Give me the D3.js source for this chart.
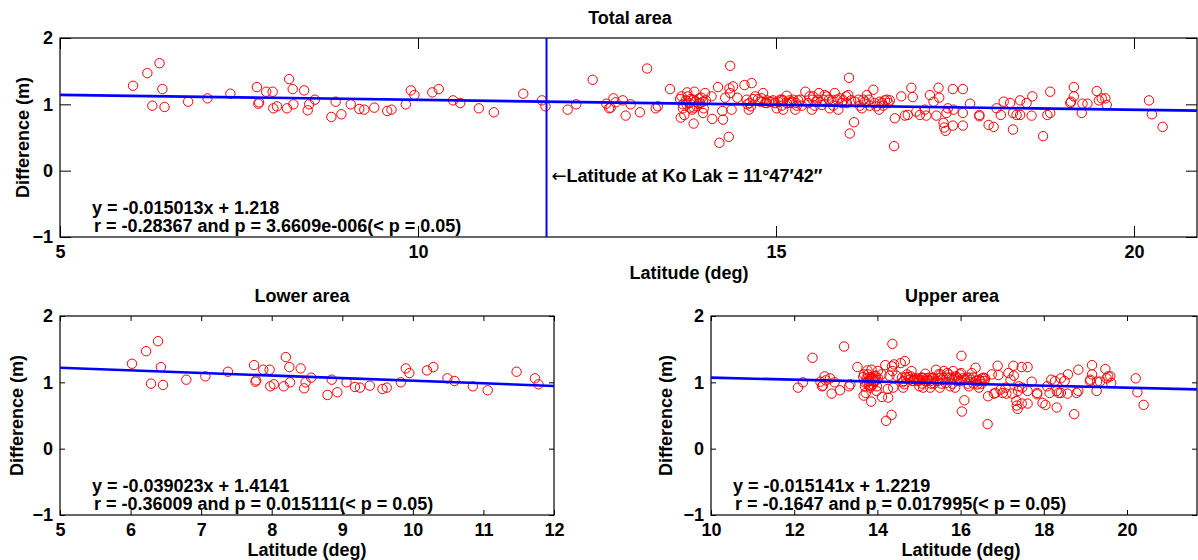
<!DOCTYPE html>
<html>
<head>
<meta charset="utf-8">
<script src="https://cdn.jsdelivr.net/npm/d3@7"></script>
<style>
  body { margin: 0; background: #fff; }
  svg { display: block; }
  text { font-family: "Liberation Sans", Arial, Helvetica, sans-serif; font-weight: bold; fill: #000; }
  .tick line { stroke: #000; }
</style>
</head>
<body>
<div id="chart"></div>
<script>
//------------------------------DATA------------------------------//
// lower area (south of Ko Lak) : latitude (deg) / difference (m)
var lowerLat = [6.02,6.22,6.29,6.39,6.43,6.46,6.79,7.06,7.38,7.75,7.77,7.78,7.88,7.97,7.98,
  8.03,8.17,8.20,8.25,8.26,8.41,8.46,8.48,8.56,8.79,8.85,8.93,9.06,9.18,9.25,9.39,9.57,9.63,
  9.83,9.90,9.95,10.20,10.29,10.49,10.59,10.85,11.06,11.47,11.73,11.78];
var lowerDiff = [1.28,1.47,0.98,1.62,1.23,0.96,1.04,1.09,1.16,1.26,1.01,1.03,1.19,1.19,0.94,
  0.97,0.94,1.38,1.23,1.00,1.21,0.91,1.00,1.07,0.81,1.04,0.85,1.00,0.93,0.92,0.95,0.90,0.92,
  1.00,1.21,1.14,1.18,1.23,1.06,1.02,0.94,0.88,1.16,1.06,0.97];

// upper area (north of Ko Lak)
var upperLat = [12.09,12.21,12.44,12.63,12.67,12.69,12.73,12.76,12.86,12.90,
  12.97,13.10,13.20,13.32,13.35,13.52,13.66,13.67,13.70,13.72,
  13.74,13.76,13.79,13.80,13.81,13.83,13.85,13.85,13.86,13.88,
  13.92,13.93,13.96,13.98,13.99,14.01,14.02,14.10,14.11,14.19,
  14.21,14.25,14.26,14.29,14.34,14.35,14.36,14.36,14.38,14.40,
  14.46,14.56,14.60,14.62,14.66,14.68,14.71,14.75,14.82,14.85,
  14.87,14.91,14.96,15.01,15.03,15.10,15.10,15.15,15.19,15.20,
  15.27,15.31,15.41,15.45,15.50,15.52,15.56,15.60,15.64,15.71,
  15.75,15.79,15.82,15.87,15.89,15.94,16.01,16.02,16.03,16.05,
  16.09,16.10,16.20,16.24,16.27,16.31,16.36,16.40,16.44,16.48,
  16.52,16.59,16.65,16.66,16.75,16.80,16.84,16.89,16.91,16.96,
  17.01,17.08,17.10,17.15,17.20,17.24,17.27,17.28,17.34,17.35,
  17.37,17.38,17.40,17.47,17.47,17.48,17.61,17.61,17.61,17.71,
  17.84,17.84,17.97,18.04,18.08,18.14,18.18,18.27,18.31,18.31,
  18.36,18.41,18.41,18.50,18.57,18.58,18.73,18.79,18.83,18.83,
  19.11,19.12,19.16,19.16,19.27,19.28,19.35,19.48,19.51,19.55,
  19.60,19.62,20.21,20.25,20.40,
  15.08,15.24,15.28,15.34,15.36,15.47,15.51,15.54,15.58,15.66,
  15.68,15.74,15.80,15.85,15.92,15.98,15.99,16.15,16.17,16.22,
  16.30,16.38,16.45,16.50,16.55,16.57,
  14.59,14.63,14.65,14.78,14.80,14.87,14.94,14.99,15.06,15.08,15.15,15.22,15.29,
  13.68,13.70,13.75,13.77,13.85,13.89,13.94,13.98];
var upperDiff = [0.92,1.00,1.37,1.01,0.94,0.95,1.09,1.03,1.06,0.83,
  1.00,0.88,1.54,0.94,0.97,1.23,1.08,0.80,1.00,0.84,
  1.06,1.18,1.02,0.95,1.08,0.92,0.71,0.95,1.19,1.04,
  1.01,1.09,1.10,0.87,0.94,1.17,1.06,1.12,0.78,1.26,
  0.42,0.90,0.77,1.10,0.51,1.24,1.58,1.17,0.92,1.27,
  1.10,1.29,1.00,0.92,1.32,1.08,1.12,1.08,1.17,1.02,
  1.06,1.04,1.06,0.94,1.04,1.06,0.92,1.13,1.06,1.02,
  0.92,1.06,1.19,1.02,0.92,1.12,1.04,1.17,0.99,1.12,
  0.94,1.06,1.17,0.92,1.09,1.06,1.14,1.40,0.56,1.06,
  0.73,1.04,0.94,1.04,1.14,0.98,1.22,0.97,0.92,1.02,
  1.06,1.06,0.37,0.79,1.12,0.83,0.84,1.25,1.11,0.89,
  0.84,0.92,0.83,1.14,1.04,0.83,1.25,1.10,0.72,0.65,
  0.60,0.87,0.94,0.68,1.23,0.92,1.23,0.87,0.68,1.01,
  0.84,0.82,0.69,0.66,0.94,0.84,1.04,1.02,0.62,0.87,
  0.84,1.06,0.84,1.02,0.83,1.12,0.52,0.84,1.19,0.87,
  1.02,1.04,1.26,1.12,0.87,1.01,1.01,1.20,1.06,1.09,
  1.09,0.99,1.06,0.85,0.66,
  1.07,1.07,1.02,1.07,0.98,1.12,1.07,0.98,1.07,1.07,
  1.14,1.07,0.98,1.07,1.02,1.12,1.02,1.07,0.98,1.07,
  1.07,1.02,1.04,0.98,1.07,1.02,
  1.07,1.02,0.97,1.04,1.09,1.02,1.04,1.02,1.07,0.98,1.02,1.04,0.98,
  1.12,0.94,1.00,1.12,1.07,0.97,1.02,1.04];

// fit coefficients [slope, intercept] and stats text
var totalFit = [-0.015013, 1.218];
var lowerFit = [-0.039023, 1.4141];
var upperFit = [-0.015141, 1.2219];
var totalText = ["y = -0.015013x + 1.218", "r = -0.28367 and p = 3.6609e-006(< p = 0.05)"];
var lowerText = ["y = -0.039023x + 1.4141", "r = -0.36009 and p = 0.015111(< p = 0.05)"];
var upperText = ["y = -0.015141x + 1.2219", "r = -0.1647 and p = 0.017995(< p = 0.05)"];

var koLakLat = 11 + 47/60 + 42/3600;   // 11°47'42"
var yTicks = [-1, 0, 1, 2];
var totalXTicks = [5, 10, 15, 20];
var lowerXTicks = [5, 6, 7, 8, 9, 10, 11, 12];
var upperXTicks = [10, 12, 14, 16, 18, 20];

//-----------------------------SVG--------------------------------//
var W = 1198, H = 560;
var svg = d3.select("#chart").append("svg")
    .attr("width", W)
    .attr("height", H);

svg.append("rect").attr("width", W).attr("height", H).attr("fill", "#fff");

function pairs(xs, ys) {
    return d3.zip(xs, ys).map(function(p) { return {lat: p[0], diff: p[1]}; });
}

var fmt = d3.format("d");

//---------------------------PANEL--------------------------------//
function panel(cfg) {
    var x = d3.scaleLinear().domain(cfg.xDomain).range([cfg.left, cfg.right]);
    var y = d3.scaleLinear().domain([-1, 2]).range([cfg.bottom, cfg.top]);
    var g = svg.append("g");
    var fs = 18;

    // ticks, all pointing inwards like matlab
    g.append("g")
        .attr("transform", "translate(0," + cfg.bottom + ")")
        .call(d3.axisBottom(x).tickValues(cfg.xTicks).tickFormat(fmt).tickSizeInner(-cfg.tick).tickSizeOuter(0).tickPadding(8))
        .call(function(a) { a.select(".domain").remove(); });
    g.append("g")
        .attr("transform", "translate(0," + cfg.top + ")")
        .call(d3.axisTop(x).tickValues(cfg.xTicks).tickSizeInner(-cfg.tick).tickSizeOuter(0).tickFormat(""))
        .call(function(a) { a.select(".domain").remove(); });
    g.append("g")
        .attr("transform", "translate(" + cfg.left + ",0)")
        .call(d3.axisLeft(y).tickValues(yTicks).tickFormat(fmt).tickSizeInner(-cfg.tick).tickSizeOuter(0).tickPadding(7))
        .call(function(a) { a.select(".domain").remove(); });
    g.append("g")
        .attr("transform", "translate(" + cfg.right + ",0)")
        .call(d3.axisRight(y).tickValues(yTicks).tickSizeInner(-cfg.tick).tickSizeOuter(0).tickFormat(""))
        .call(function(a) { a.select(".domain").remove(); });

    g.selectAll(".tick text")
        .style("font-size", fs + "px")
        .style("font-family", "'Liberation Sans', Arial, sans-serif")
        .style("font-weight", "bold");

    // box
    g.append("rect")
        .attr("x", cfg.left).attr("y", cfg.top)
        .attr("width", cfg.right - cfg.left).attr("height", cfg.bottom - cfg.top)
        .attr("fill", "none").attr("stroke", "#000").attr("stroke-width", 1.2);

    // points
    g.selectAll("circle.pt")
        .data(cfg.data)
        .enter()
        .append("circle")
        .attr("class", "pt")
        .attr("cx", function(d) { return x(d.lat); })
        .attr("cy", function(d) { return y(d.diff); })
        .attr("r", 4.7)
        .attr("fill", "none")
        .attr("stroke", "#ff0000")
        .attr("stroke-width", 1);

    // fitted line over the whole axis
    var line = d3.line()
        .x(function(d) { return x(d); })
        .y(function(d) { return y(cfg.fit[0] * d + cfg.fit[1]); });
    g.append("path")
        .attr("d", line(cfg.xDomain))
        .attr("fill", "none")
        .attr("stroke", "#0000ff")
        .attr("stroke-width", 2.6);

    // labels
    g.append("text")
        .attr("x", cfg.titleX).attr("y", cfg.top - 14)
        .attr("text-anchor", "middle")
        .style("font-size", "18px")
        .text(cfg.title);
    g.append("text")
        .attr("x", cfg.xlabX).attr("y", cfg.bottom + cfg.xlabDy)
        .attr("text-anchor", "middle")
        .style("font-size", "18px")
        .text("Latitude (deg)");
    g.append("text")
        .attr("transform", "translate(" + cfg.ylabX + "," + ((cfg.top + cfg.bottom) / 2) + ") rotate(-90)")
        .attr("dy", "0.35em")
        .attr("text-anchor", "middle")
        .style("font-size", "18px")
        .text("Difference (m)");

    g.selectAll("text.stat")
        .data(cfg.stats)
        .enter()
        .append("text")
        .attr("class", "stat")
        .attr("x", function(d, i) { return cfg.left + cfg.statDx + i * 2; })
        .attr("y", function(d, i) { return cfg.bottom - 23 + i * 18; })
        .style("font-size", fs + "px")
        .text(function(d) { return d; });

    return {x: x, y: y, g: g};
}

//--------------------------DRAWING-------------------------------//
var lowerPts = pairs(lowerLat, lowerDiff);
var upperPts = pairs(upperLat, upperDiff);

var total = panel({
    left: 60, right: 1197, top: 38, bottom: 237,
    xDomain: [5, 20.88], xTicks: totalXTicks, tick: 11,
    data: lowerPts.concat(upperPts), fit: totalFit, stats: totalText,
    title: "Total area", titleX: 630, xlabX: 689, xlabDy: 42, ylabX: 23, statDx: 32
});

// Ko Lak latitude marker
total.g.append("line")
    .attr("x1", total.x(koLakLat)).attr("x2", total.x(koLakLat))
    .attr("y1", total.y(2)).attr("y2", total.y(-1))
    .attr("stroke", "#0000ff")
    .attr("stroke-width", 2);
var ko = total.g.append("text")
    .attr("x", total.x(koLakLat) + 5)
    .attr("y", 182)
    .style("font-size", "18px");
ko.append("tspan")
    .style("font-family", "'DejaVu Sans', sans-serif")
    .style("font-weight", "normal")
    .text("\u2190");
ko.append("tspan")
    .text("Latitude at Ko Lak = 11\u00b047\u203242\u2032\u2032");

panel({
    left: 60, right: 554, top: 316, bottom: 515,
    xDomain: [5, 12], xTicks: lowerXTicks, tick: 5,
    data: lowerPts, fit: lowerFit, stats: lowerText,
    title: "Lower area", titleX: 302, xlabX: 307, xlabDy: 41, ylabX: 17, statDx: 32
});

panel({
    left: 711, right: 1197, top: 316, bottom: 515,
    xDomain: [10, 10 + (1197 - 711) / 41.6], xTicks: upperXTicks, tick: 5,
    data: upperPts, fit: upperFit, stats: upperText,
    title: "Upper area", titleX: 952, xlabX: 961, xlabDy: 41, ylabX: 666, statDx: 22
});
</script>
</body>
</html>
